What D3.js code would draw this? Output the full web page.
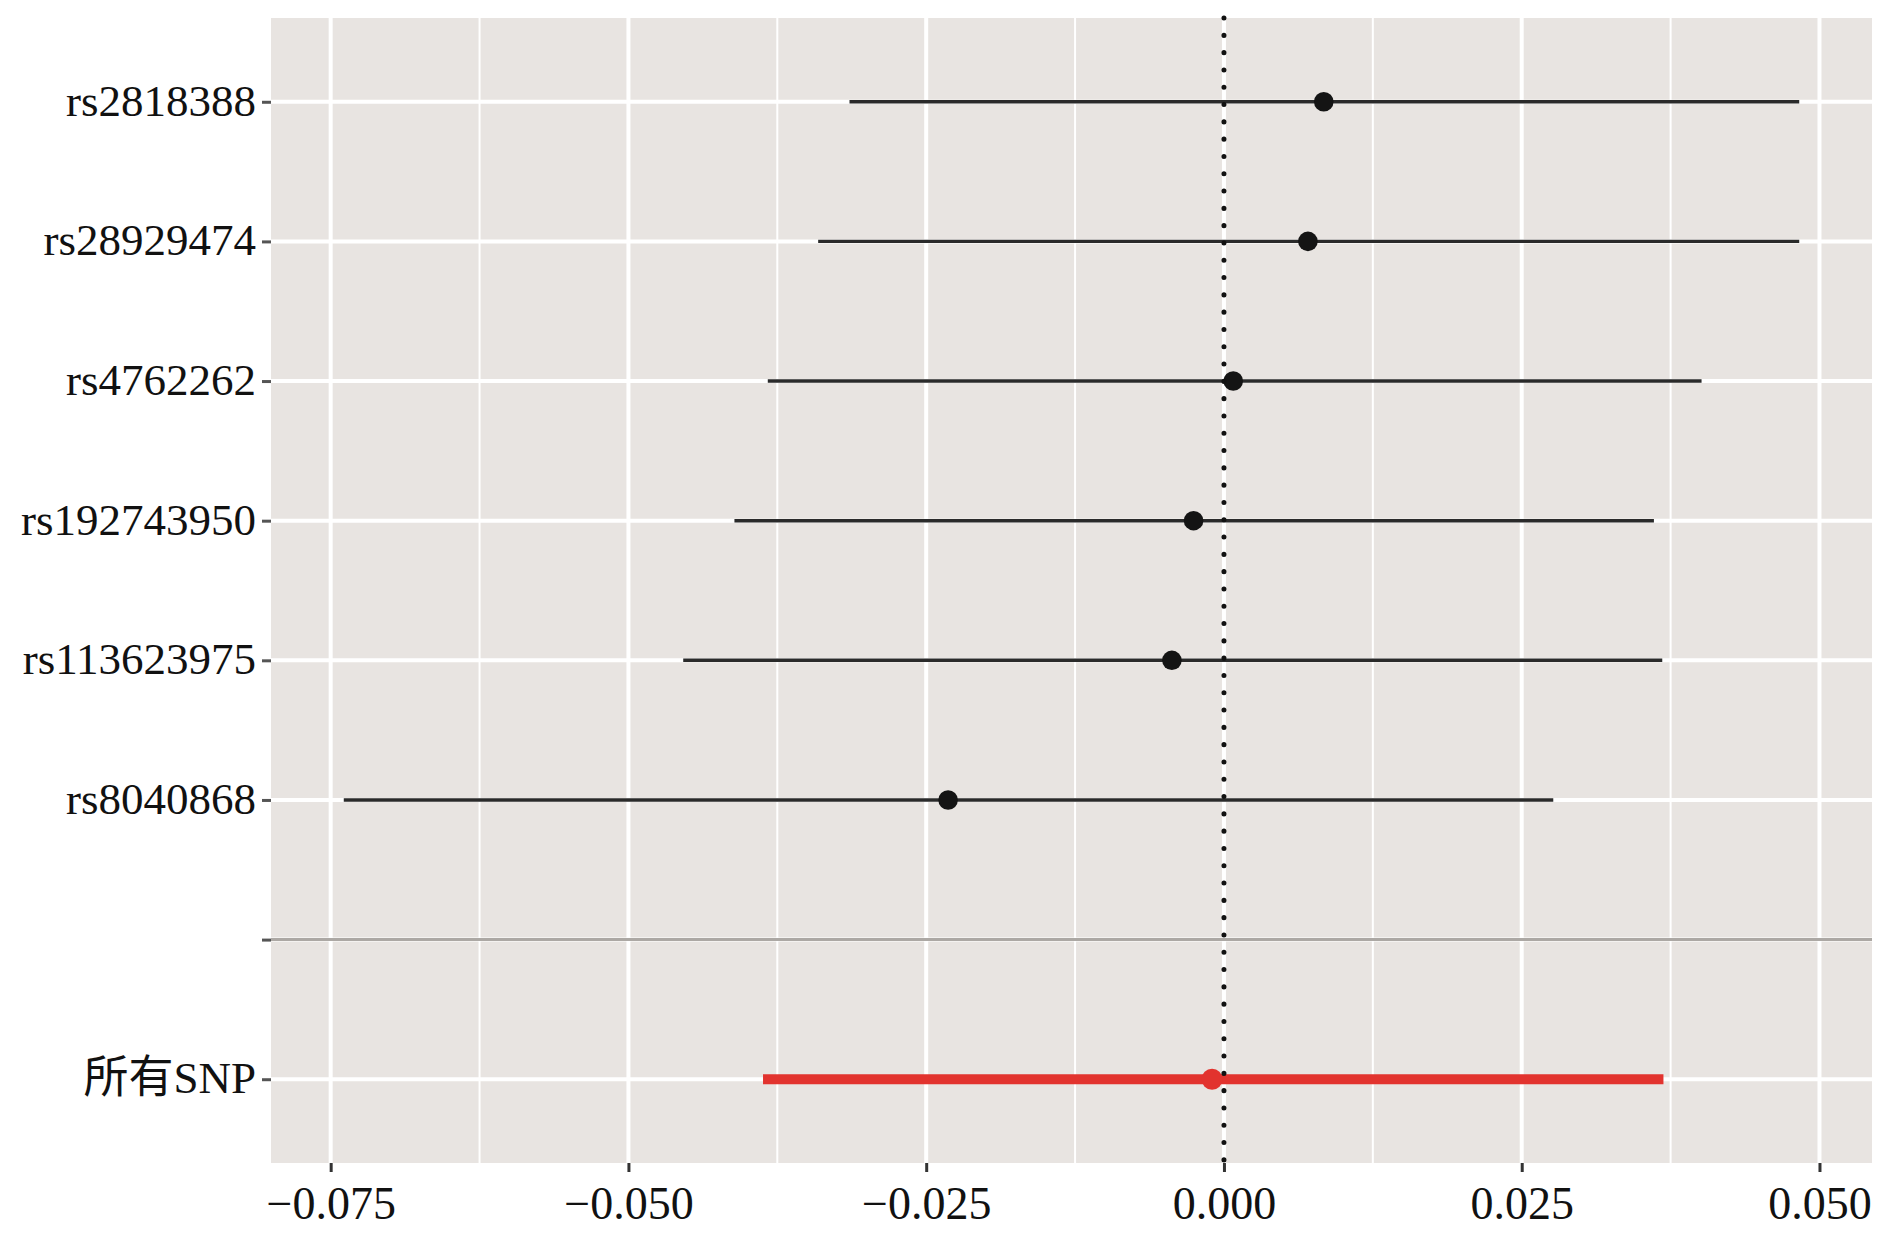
<!DOCTYPE html>
<html>
<head>
<meta charset="utf-8">
<script src="https://cdn.jsdelivr.net/npm/d3@7"></script>
<style>
  html, body { margin: 0; padding: 0; background: #ffffff; }
  svg { display: block; }
</style>
</head>
<body>
<svg id="chart" width="1890" height="1251"></svg>
<script>
// ---- data ----
const categories = ["rs2818388", "rs28929474", "rs4762262", "rs192743950", "rs113623975", "rs8040868", "", "所有SNP"];
const estimates  = [0.00838, 0.00705, 0.00078, -0.00255, -0.00437, -0.02316, null, -0.0010];
const lowerCI    = [-0.03144, -0.03407, -0.0383, -0.0411, -0.0454, -0.0739, null, -0.0387];
const upperCI    = [0.0483, 0.0483, 0.0401, 0.0361, 0.0368, 0.02765, null, 0.0369];
const isSummary  = [false, false, false, false, false, false, false, true];
const xTicks     = [-0.075, -0.050, -0.025, 0.000, 0.025, 0.050];
const xMinor     = [-0.0625, -0.0375, -0.0125, 0.0125, 0.0375];
const separatorCategory = "";

// ---- layout ----
const svg = d3.select("#chart");
const panel = { left: 271, right: 1872, top: 18, bottom: 1163 };
const serif = "'Liberation Serif', 'Times New Roman', Times, serif";
const serifCJK = "'Liberation Serif', 'Times New Roman', Times, 'Noto Sans CJK SC', serif";

const rows = categories.map((c, i) => ({
  cat: c, est: estimates[i], lo: lowerCI[i], hi: upperCI[i], summary: isSummary[i]
}));
const valid = rows.filter(d => d.est !== null);
const dMin = d3.min(valid, d => d.lo), dMax = d3.max(valid, d => d.hi);
const pad = (dMax - dMin) * 0.05;

const x = d3.scaleLinear().domain([dMin - pad, dMax + pad]).range([panel.left, panel.right]);
const y = d3.scalePoint().domain(categories).range([panel.top, panel.bottom]).padding(0.6);

// panel background
svg.append("rect")
  .attr("x", panel.left).attr("y", panel.top)
  .attr("width", panel.right - panel.left).attr("height", panel.bottom - panel.top)
  .attr("fill", "#e8e4e1");

// minor vertical grid
svg.append("g").selectAll("line").data(xMinor).join("line")
  .attr("x1", d => x(d)).attr("x2", d => x(d))
  .attr("y1", panel.top).attr("y2", panel.bottom)
  .attr("stroke", "#ffffff").attr("stroke-width", 2);

// major vertical grid
svg.append("g").selectAll("line").data(xTicks).join("line")
  .attr("x1", d => x(d)).attr("x2", d => x(d))
  .attr("y1", panel.top).attr("y2", panel.bottom)
  .attr("stroke", "#ffffff").attr("stroke-width", 4);

// major horizontal grid
svg.append("g").selectAll("line").data(categories).join("line")
  .attr("x1", panel.left).attr("x2", panel.right)
  .attr("y1", d => y(d)).attr("y2", d => y(d))
  .attr("stroke", "#ffffff").attr("stroke-width", 4);

// separator line
svg.append("line")
  .attr("x1", panel.left).attr("x2", panel.right)
  .attr("y1", y(separatorCategory)).attr("y2", y(separatorCategory))
  .attr("stroke", "#aca8a4").attr("stroke-width", 3);

// CI segments
svg.append("g").selectAll("line").data(valid).join("line")
  .attr("x1", d => x(d.lo)).attr("x2", d => x(d.hi))
  .attr("y1", d => y(d.cat)).attr("y2", d => y(d.cat))
  .attr("stroke", d => d.summary ? "#e2332e" : "#2a2a2a")
  .attr("stroke-width", d => d.summary ? 10 : 3.4);

// points
svg.append("g").selectAll("circle").data(valid).join("circle")
  .attr("cx", d => x(d.est)).attr("cy", d => y(d.cat))
  .attr("r", d => d.summary ? 10.5 : 9.8)
  .attr("fill", d => d.summary ? "#e2332e" : "#141414");

// zero reference line (dotted)
svg.append("line")
  .attr("x1", x(0)).attr("x2", x(0))
  .attr("y1", panel.top).attr("y2", panel.bottom)
  .attr("stroke", "#111111").attr("stroke-width", 5)
  .attr("stroke-linecap", "round")
  .attr("stroke-dasharray", "0.1,17.2");

// x axis
const xAxis = d3.axisBottom(x).tickValues(xTicks).tickSize(9).tickPadding(14)
  .tickFormat(d => d3.format(".3f")(d).replace("-", "\u2013"));
const gx = svg.append("g").attr("transform", `translate(0,${panel.bottom})`).call(xAxis);
gx.select(".domain").remove();
gx.selectAll(".tick line").attr("stroke", "#333333").attr("stroke-width", 3);
gx.selectAll(".tick text")
  .attr("fill", "#111111")
  .style("font-family", serif)
  .style("font-size", "46px");

// y axis
const yAxis = d3.axisLeft(y).tickSize(9).tickPadding(6);
const gy = svg.append("g").attr("transform", `translate(${panel.left},0)`).call(yAxis);
gy.select(".domain").remove();
gy.selectAll(".tick line").attr("stroke", "#555555").attr("stroke-width", 3);
gy.selectAll(".tick text")
  .attr("fill", "#111111")
  .attr("dy", "0.3em")
  .style("font-family", serifCJK)
  .style("font-size", "45px");
</script>
</body>
</html>
